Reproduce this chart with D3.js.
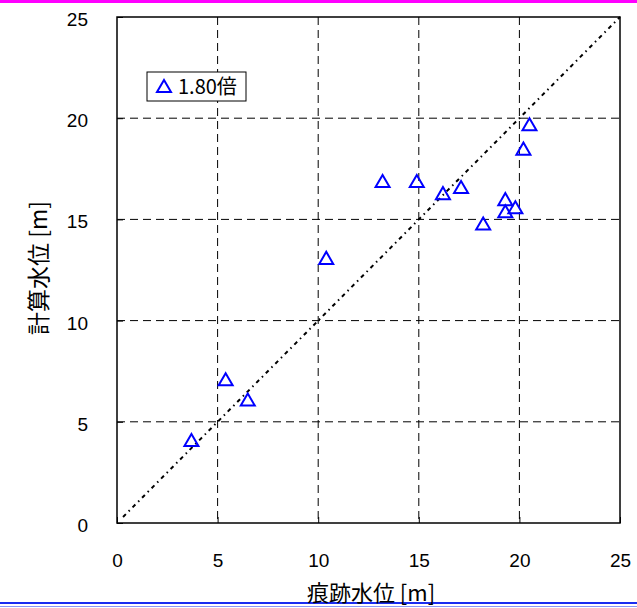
<!DOCTYPE html>
<html>
<head>
<meta charset="utf-8">
<script src="https://cdn.jsdelivr.net/npm/d3@7"></script>
<style>
  body { margin: 0; background: #fff; }
  svg { display: block; }
  text { font-family: "Noto Sans CJK JP", "Liberation Sans", sans-serif; }
</style>
</head>
<body>
<div class="chart"></div>
<script>
// traced water level (x) vs computed water level (y), metres
const tracedLevel = [3.7, 5.4, 6.5, 10.4, 13.2, 14.9, 16.2, 17.1, 18.2, 19.3, 19.3, 19.8, 20.2, 20.5];
const computedLevel = [4.0, 7.0, 6.0, 13.0, 16.8, 16.8, 16.2, 16.5, 14.7, 15.9, 15.3, 15.5, 18.4, 19.6];
const tickValues = [0, 5, 10, 15, 20, 25];
const seriesName = "1.80倍";

const width = 637, height = 608;
const plotL = 117, plotR = 620, plotT = 17, plotB = 523;

const svg = d3.select('.chart').append('svg')
  .attr('width', width)
  .attr('height', height);

// page rules
svg.append('rect').attr('x', 0).attr('y', 0).attr('width', width).attr('height', 3).attr('fill', '#ff00ff');
svg.append('rect').attr('x', 0).attr('y', 602).attr('width', width).attr('height', 2).attr('fill', '#1a2cf0');
svg.append('rect').attr('x', 0).attr('y', 606).attr('width', width).attr('height', 1).attr('fill', '#8c96f5');

const x = d3.scaleLinear().domain([0, 25]).range([plotL, plotR]);
const y = d3.scaleLinear().domain([0, 25]).range([plotB, plotT]);

// grid
const grid = svg.append('g');
grid.selectAll('line.vg')
  .data(tickValues.slice(1, -1))
  .enter().append('line')
  .attr('x1', d => x(d)).attr('x2', d => x(d))
  .attr('y1', plotT).attr('y2', plotB)
  .attr('stroke', '#000').attr('stroke-width', 1)
  .attr('stroke-dasharray', '8,5');
grid.selectAll('line.hg')
  .data(tickValues.slice(1, -1))
  .enter().append('line')
  .attr('y1', d => y(d)).attr('y2', d => y(d))
  .attr('x1', plotL).attr('x2', plotR)
  .attr('stroke', '#000').attr('stroke-width', 1)
  .attr('stroke-dasharray', '8,5');

// axes (labels only, ticks inside)
const xAxis = svg.append('g')
  .attr('transform', `translate(0,${plotB})`)
  .call(d3.axisBottom(x).tickValues(tickValues).tickSize(-6).tickPadding(31));
const yAxis = svg.append('g')
  .attr('transform', `translate(${plotL},0)`)
  .call(d3.axisLeft(y).tickValues(tickValues).tickSize(-6).tickPadding(29));
[xAxis, yAxis].forEach(a => {
  a.select('.domain').remove();
  a.selectAll('.tick line').attr('stroke', '#000');
  a.selectAll('.tick text').attr('font-size', 19).attr('fill', '#000')
    .style('font-family', '"Liberation Sans", sans-serif');
});
yAxis.selectAll('.tick text').attr('dy', '0.45em');

// 1:1 line
svg.append('line')
  .attr('x1', x(0.3)).attr('y1', y(0.3))
  .attr('x2', x(25)).attr('y2', y(25))
  .attr('stroke', '#000').attr('stroke-width', 2)
  .attr('stroke-dasharray', '4,4,1.5,4');

// frame
svg.append('rect')
  .attr('x', plotL).attr('y', plotT)
  .attr('width', plotR - plotL).attr('height', plotB - plotT)
  .attr('fill', 'none').attr('stroke', '#000').attr('stroke-width', 1.5);

// points
const tri = d3.symbol().type(d3.symbolTriangle).size(85);
svg.selectAll('path.pt')
  .data(tracedLevel)
  .enter().append('path')
  .attr('class', 'pt')
  .attr('d', tri)
  .attr('transform', (d, i) => `translate(${x(d)},${y(computedLevel[i])})`)
  .attr('fill', 'none')
  .attr('stroke', '#0000ff')
  .attr('stroke-width', 2);

// legend
const lg = svg.append('g').attr('transform', 'translate(147,72)');
lg.append('rect').attr('width', 99).attr('height', 29)
  .attr('fill', '#fff').attr('stroke', '#000').attr('stroke-width', 1);
lg.append('path').attr('d', tri).attr('transform', 'translate(17,16)')
  .attr('fill', 'none').attr('stroke', '#0000ff').attr('stroke-width', 2);
lg.append('text').attr('x', 31).attr('y', 22).attr('font-size', 20).text(seriesName);

// axis titles
svg.append('text')
  .attr('x', 371).attr('y', 601)
  .attr('text-anchor', 'middle').attr('font-size', 22)
  .text('痕跡水位 [m]');
svg.append('text')
  .attr('transform', 'translate(47,268) rotate(-90)')
  .attr('text-anchor', 'middle').attr('font-size', 23)
  .text('計算水位 [m]');
</script>
</body>
</html>
